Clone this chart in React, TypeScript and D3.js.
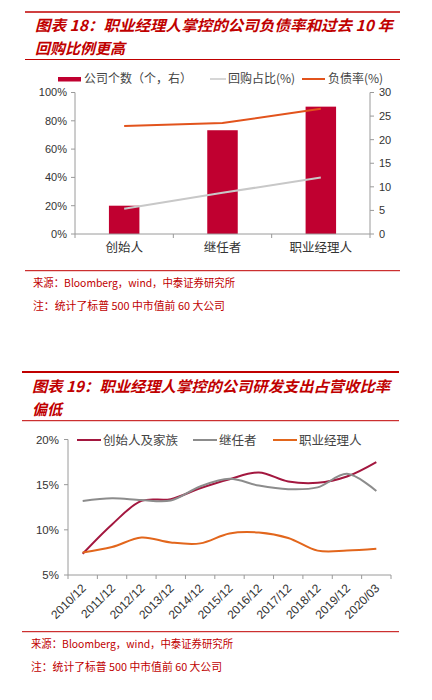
import React from 'react';
import * as d3 from 'd3';

// chart 18 data
const holderCats = ['创始人', '继任者', '职业经理人'];
const companyCount = [6, 22, 27]; // right axis
const buybackRatio = [17.8, 29.1, 39.9]; // %
const debtRatio = [76.3, 78.4, 88.5]; // %
const leftTicks1 = [0, 20, 40, 60, 80, 100];
const rightTicks1 = [0, 5, 10, 15, 20, 25, 30];

// chart 19 data
const periods = ['2010/12', '2011/12', '2012/12', '2013/12', '2014/12', '2015/12', '2016/12', '2017/12', '2018/12', '2019/12', '2020/03'];
const founderRd = [7.35, 10.6, 13.2, 13.4, 14.6, 15.6, 16.35, 15.35, 15.2, 15.9, 17.5];
const successorRd = [13.2, 13.5, 13.3, 13.25, 14.8, 15.65, 14.9, 14.5, 14.7, 16.2, 14.3];
const managerRd = [7.5, 8.1, 9.15, 8.6, 8.5, 9.6, 9.7, 9.1, 7.7, 7.7, 7.9];
const yTicks2 = [5, 10, 15, 20];

const RED = '#c00000';
const CJK = '"Noto Sans CJK SC", sans-serif';
const NUM = '"Liberation Sans", Arial, sans-serif';

function Header({ y0, x0, x1, thick, line1, line2, tx, len1, base1, base2, yRule }: any) {
  return (
    <g>
      <line x1={x0} x2={x1} y1={y0} y2={y0} stroke={RED} strokeWidth={thick} />
      <text x={tx} y={base1} fill={RED} fontFamily={CJK} fontWeight="bold" fontStyle="italic" fontSize={15}
        textLength={len1} lengthAdjust="spacingAndGlyphs">{line1}</text>
      <text x={tx} y={base2} fill={RED} fontFamily={CJK} fontWeight="bold" fontStyle="italic" fontSize={15}>{line2}</text>
      <line x1={x0} x2={x1} y1={yRule} y2={yRule} stroke={RED} strokeWidth={1} />
    </g>
  );
}

function Footer({ x0, x1, yRule, tx, b1, b2, w1, w2 }: any) {
  return (
    <g>
      <line x1={x0} x2={x1} y1={yRule} y2={yRule} stroke={RED} strokeWidth={1} />
      <text x={tx} y={b1} fill={RED} fontFamily={CJK} fontSize={11} textLength={w1} lengthAdjust="spacingAndGlyphs">来源：Bloomberg，wind，中泰证券研究所</text>
      <text x={tx} y={b2} fill={RED} fontFamily={CJK} fontSize={11} textLength={w2} lengthAdjust="spacingAndGlyphs">注：统计了标普 500 中市值前 60 大公司</text>
    </g>
  );
}

function Chart18() {
  const x = d3.scaleBand().domain(holderCats).range([75, 370]).padding(0);
  const yL = d3.scaleLinear().domain([0, 100]).range([234, 92.5]);
  const yR = d3.scaleLinear().domain([0, 30]).range([234, 92.5]);
  const cx = (c: string) => x(c)! + x.bandwidth() / 2;
  const barW = x.bandwidth() * 0.31;
  const line = d3.line<number>().x((_, i) => cx(holderCats[i])).y(d => yL(d));
  const axis = '#9a9a9a';
  return (
    <g>
      {/* legend */}
      <rect x={58} y={77} width={23} height={4.5} fill="#c00030" />
      <text x={84} y={83} fontFamily={CJK} fontSize={12} fill="#444">公司个数（个，右）</text>
      <line x1={210} x2={226} y1={79} y2={79} stroke="#c8c8c8" strokeWidth={1.5} />
      <text x={228} y={83} fontFamily={CJK} fontSize={12} fill="#444">回购占比(%)</text>
      <line x1={302} x2={325} y1={79} y2={79} stroke="#e2531c" strokeWidth={2} />
      <text x={328} y={83} fontFamily={CJK} fontSize={12} fill="#444">负债率(%)</text>

      {/* bars */}
      {holderCats.map((c, i) => (
        <rect key={c} x={cx(c) - barW / 2} y={yR(companyCount[i])} width={barW}
          height={yR(0) - yR(companyCount[i])} fill="#c00030" />
      ))}
      <path d={line(buybackRatio)!} fill="none" stroke="#c8c8c8" strokeWidth={2} />
      <path d={line(debtRatio)!} fill="none" stroke="#e2531c" strokeWidth={2} />

      {/* axes */}
      <line x1={75} x2={75} y1={yL(100)} y2={yL(0)} stroke={axis} />
      {leftTicks1.map(t => (
        <g key={t}>
          <line x1={71} x2={75} y1={yL(t)} y2={yL(t)} stroke={axis} />
          <text x={67} y={yL(t)} dy="0.35em" textAnchor="end" fontFamily={NUM} fontSize={11} fill="#333">{t}%</text>
        </g>
      ))}
      <line x1={370} x2={370} y1={yR(30)} y2={yR(0)} stroke={axis} />
      {rightTicks1.map(t => (
        <g key={t}>
          <line x1={370} x2={374} y1={yR(t)} y2={yR(t)} stroke={axis} />
          <text x={379} y={yR(t)} dy="0.35em" fontFamily={NUM} fontSize={11} fill="#333">{t}</text>
        </g>
      ))}
      <line x1={75} x2={370} y1={234} y2={234} stroke={axis} />
      {holderCats.map(c => (
        <line key={c} x1={x(c)! + x.bandwidth()} x2={x(c)! + x.bandwidth()} y1={234} y2={238} stroke={axis} />
      ))}
      <line x1={75} x2={75} y1={234} y2={238} stroke={axis} />
      {holderCats.map(c => (
        <text key={c} x={cx(c)} y={252} textAnchor="middle" fontFamily={CJK} fontSize={12.5} fill="#333">{c}</text>
      ))}
    </g>
  );
}

function Chart19() {
  const x = d3.scaleBand().domain(periods).range([68, 391]).padding(0);
  const y = d3.scaleLinear().domain([5, 20]).range([575, 439.5]);
  const cx = (p: string) => x(p)! + x.bandwidth() / 2;
  const line = d3.line<number>().x((_, i) => cx(periods[i])).y(d => y(d)).curve(d3.curveCatmullRom.alpha(0.5));
  const axis = '#9a9a9a';
  const series = [
    { name: '创始人及家族', vals: founderRd, color: '#a3173f', lx: 77 },
    { name: '继任者', vals: successorRd, color: '#8c8c8c', lx: 193 },
    { name: '职业经理人', vals: managerRd, color: '#e2661c', lx: 273 },
  ];
  return (
    <g>
      {series.map(s => (
        <path key={s.name} d={line(s.vals)!} fill="none" stroke={s.color} strokeWidth={2} />
      ))}
      {series.map(s => (
        <g key={s.name}>
          <line x1={s.lx} x2={s.lx + 24} y1={440} y2={440} stroke={s.color} strokeWidth={2} />
          <text x={s.lx + 26} y={444.5} fontFamily={CJK} fontSize={12.5} fill="#444">{s.name}</text>
        </g>
      ))}
      <line x1={68} x2={68} y1={y(20)} y2={y(5)} stroke={axis} />
      {yTicks2.map(t => (
        <g key={t}>
          <line x1={64} x2={68} y1={y(t)} y2={y(t)} stroke={axis} />
          <text x={59} y={y(t)} dy="0.35em" textAnchor="end" fontFamily={NUM} fontSize={11.5} fill="#333">{t}%</text>
        </g>
      ))}
      <line x1={68} x2={391} y1={575} y2={575} stroke={axis} />
      {[68, ...periods.map(p => x(p)! + x.bandwidth())].map((v, i) => (
        <line key={i} x1={v} x2={v} y1={575} y2={579} stroke={axis} />
      ))}
      {periods.map(p => (
        <text key={p} transform={`translate(${cx(p) + 1},${586}) rotate(-45)`} textAnchor="end" dy="0.35em"
          fontFamily={NUM} fontSize={12} fill="#333">{p}</text>
      ))}
    </g>
  );
}

export default function App() {
  return (
    <svg width={432} height={700} style={{ position: 'absolute', left: 0, top: 0, background: '#fff' }}>
      <rect width={432} height={700} fill="#fff" />
      <Header y0={12} x0={25} x1={400} thick={1.5} tx={35} len1={358} base1={31} base2={54} yRule={59.5}
        line1="图表 18：职业经理人掌控的公司负债率和过去 10 年" line2="回购比例更高" />
      <Chart18 />
      <Footer x0={25} x1={400} yRule={270.7} tx={33} b1={287} b2={310} w1={202} w2={192} />

      <Header y0={372} x0={22} x1={399} thick={2} tx={32} len1={358} base1={392} base2={415} yRule={420.7}
        line1="图表 19：职业经理人掌控的公司研发支出占营收比率" line2="偏低" />
      <Chart19 />
      <Footer x0={22} x1={399} yRule={631.7} tx={31} b1={648} b2={671} w1={202} w2={191} />
    </svg>
  );
}
